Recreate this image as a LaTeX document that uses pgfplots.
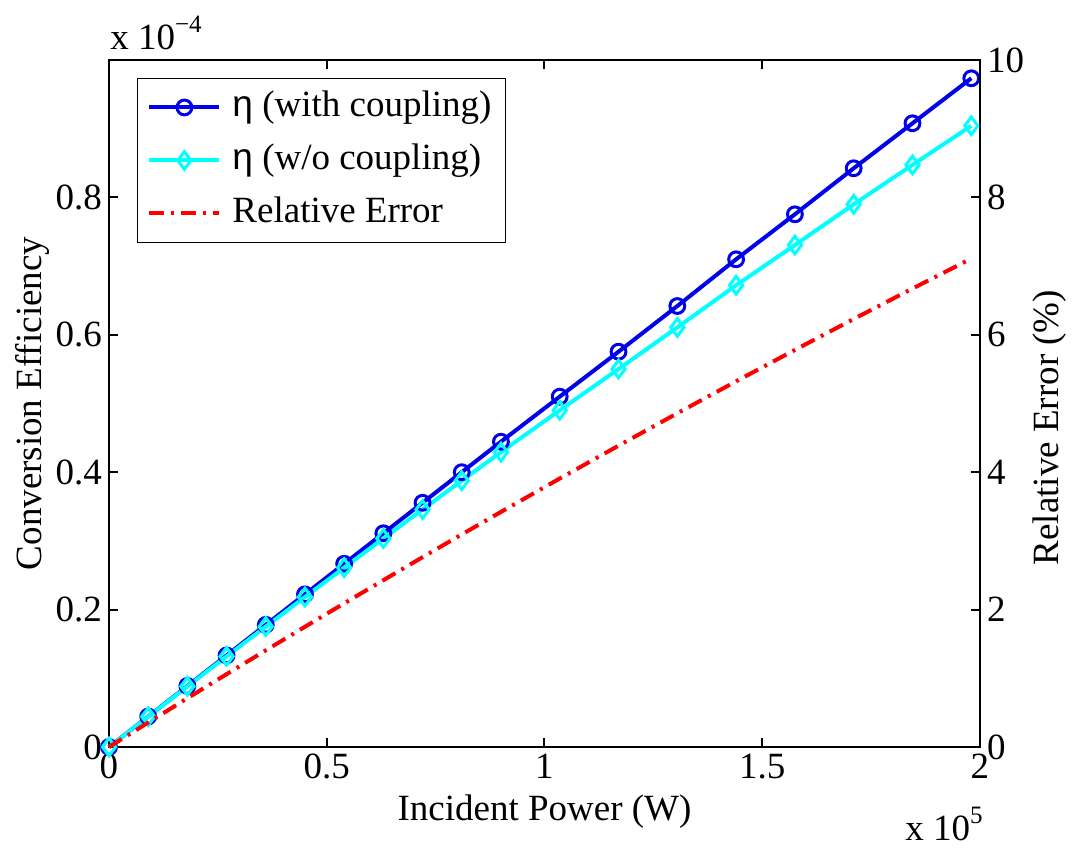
\documentclass[border=0pt]{standalone}
\usepackage{fontspec}
\setmainfont{Liberation Serif}
\newfontfamily\etafont{Liberation Sans}
\usepackage{pgfplots}
\pgfplotsset{compat=1.18}
\definecolor{mblue}{rgb}{0,0,0.92}
\definecolor{mcyan}{rgb}{0,1,1}
\definecolor{mred}{rgb}{1,0,0}

\pgfplotsset{
  common/.style={
    at={(0pt,0pt)}, anchor=south west,
    width=435.5pt, height=343.5pt, scale only axis,
    xmin=0, xmax=2,
    tick align=inside,
    major tick length=4.5pt,
    tick style={line width=1pt, black},
    axis line style={line width=1pt},
    /pgf/number format/assume math mode=true,
    ticklabel style={font=\fontsize{18.5}{22}\selectfont},
    label style={font=\fontsize{18.5}{22}\selectfont},
    clip=false,
  }
}

\begin{document}
\begin{tikzpicture}[font=\fontsize{18.5}{22}\selectfont]
\begin{axis}[
  common,
  ymin=0, ymax=1,
  xtick={0,0.5,1,1.5,2},
  ytick={0,0.2,0.4,0.6,0.8},
  extra y ticks={1}, extra y tick labels={},
  ytick pos=left,
  xlabel={Incident Power (W)},
  ylabel={Conversion Efficiency},
  xlabel style={at={(axis description cs:0.5,-0.0946)}, anchor=center},
  ylabel style={at={(axis description cs:-0.0873,0.5)}, anchor=center},
]
% eta with coupling (x in 1e5 W, y in 1e-4)
\addplot[mblue, line width=2pt, mark=o,
  mark options={line width=1.5pt, fill=white, mark size=3.7pt}] coordinates {
  (0,0) (0.09,0.0444) (0.18,0.0889) (0.27,0.1333) (0.36,0.1778) (0.45,0.2222)
  (0.54,0.2667) (0.63,0.3111) (0.72,0.3555) (0.81,0.4000) (0.90,0.4444)
  (1.035,0.5100) (1.17,0.5754) (1.305,0.6419) (1.44,0.7099) (1.575,0.7754)
  (1.71,0.8424) (1.845,0.9079) (1.98,0.9734)
};
% eta without coupling
\addplot[mcyan, line width=2pt, mark=diamond,
  mark options={line width=1.5pt, fill=white, mark size=4.4pt}] coordinates {
  (0,0) (0.09,0.0442) (0.18,0.0883) (0.27,0.1319) (0.36,0.1753) (0.45,0.2183)
  (0.54,0.2611) (0.63,0.3035) (0.72,0.3457) (0.81,0.3876) (0.90,0.4292)
  (1.035,0.4901) (1.17,0.5502) (1.305,0.6107) (1.44,0.6721) (1.575,0.7306)
  (1.71,0.7899) (1.845,0.8473) (1.98,0.9042)
};
\node[anchor=base west, inner sep=0pt] at (axis description cs:0.001,1.0146)
  {x 10\raisebox{8.5pt}{\fontsize{12.5}{12.5}\selectfont −4}};
\node[anchor=base west, inner sep=0pt] at (axis description cs:0.914,-0.1354)
  {x 10\raisebox{8.5pt}{\fontsize{12.5}{12.5}\selectfont 5}};
\end{axis}

\begin{axis}[
  common,
  ymin=0, ymax=10,
  hide x axis,
  axis y line*=right,
  ytick={0,2,4,6,8,10},
  ylabel={Relative Error (\%)},
  ylabel style={at={(axis description cs:1.080,0.465)}, anchor=center},
  legend cell align=left,
  legend image code/.code={
    \draw[mark repeat=2, mark phase=2, #1] plot coordinates {(0pt,0pt) (17.5pt,0pt) (35pt,0pt)};
  },
  legend style={
    at={(axis description cs:0.0318,0.9742)}, anchor=north west,
    draw=black, line width=0.75pt, fill=white,
    inner xsep=5pt, inner ysep=3.5pt, row sep=4.5pt, column sep=3.5pt,
    nodes={inner sep=2pt, text height=13.5pt, text depth=4.5pt,
      font=\fontsize{18.5}{22}\selectfont},
  },
]
\addlegendimage{mblue, line width=2pt, mark=o, mark options={line width=1.5pt, mark size=3.7pt}}
\addlegendentry{{\etafont η} (with coupling)}
\addlegendimage{mcyan, line width=2pt, mark=diamond, mark options={line width=1.5pt, mark size=4.4pt}}
\addlegendentry{{\etafont η} (w/o coupling)}
\addplot[mred, line width=2pt, dash pattern=on 7.5pt off 3.5pt on 1.5pt off 3.5pt] coordinates {
  (0,0) (0.09,0.356) (0.18,0.710) (0.27,1.060) (0.36,1.407) (0.45,1.750)
  (0.54,2.091) (0.63,2.428) (0.72,2.763) (0.81,3.094) (0.90,3.422)
  (1.035,3.908) (1.17,4.386) (1.305,4.858) (1.44,5.323) (1.575,5.780)
  (1.71,6.230) (1.845,6.673) (1.98,7.109)
};
\addlegendentry{Relative Error}
\end{axis}
\pgfresetboundingbox
\path[use as bounding box] (-54.5pt,-50.5pt) rectangle (482pt,373.5pt);
\end{tikzpicture}
\end{document}
